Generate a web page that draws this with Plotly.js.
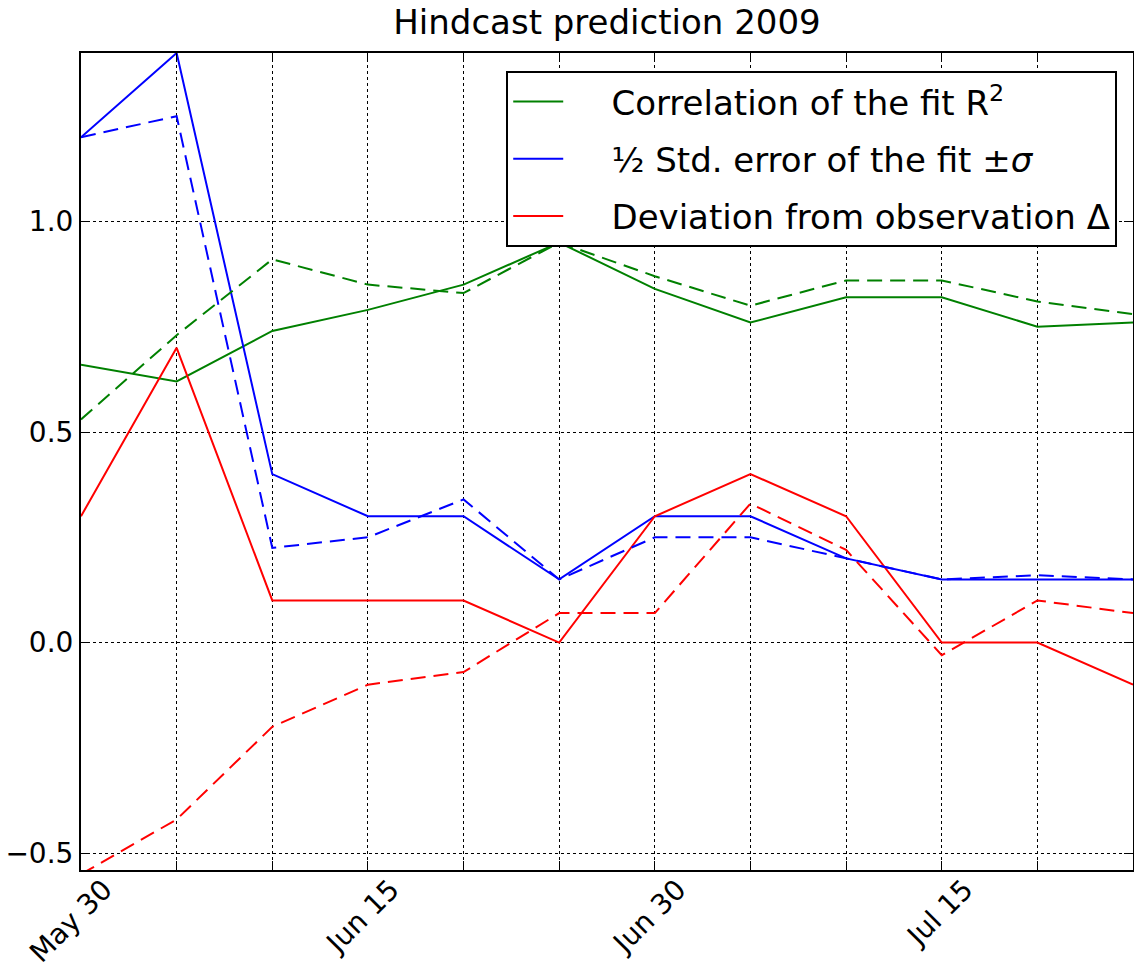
<!DOCTYPE html>
<html>
<head>
<meta charset="utf-8">
<script src="https://cdn.plot.ly/plotly-3.0.1.min.js"></script>
<style>
  body { margin: 0; background: #fff; }
  #chart { width: 1134px; height: 969px; }
</style>
</head>
<body>
<div id="chart"></div>
<script>
// one forecast every 5 days
var dates = [
  "2009-05-31", "2009-06-05", "2009-06-10", "2009-06-15", "2009-06-20", "2009-06-25",
  "2009-06-30", "2009-07-05", "2009-07-10", "2009-07-15", "2009-07-20", "2009-07-25",
];
var tickLabels = ["May 30", " ", " ", "Jun 15", " ", " ", "Jun 30", " ", " ", "Jul 15", " ", " "];

// solid = hindcast, dashed = second set
var r2 = [0.66, 0.62, 0.74, 0.79, 0.85, 0.95, 0.84, 0.76, 0.82, 0.82, 0.75, 0.76];
var r2Dash = [0.53, 0.73, 0.91, 0.85, 0.83, 0.95, 0.87, 0.80, 0.86, 0.86, 0.81, 0.78];
var sigma = [1.2, 1.4, 0.4, 0.3, 0.3, 0.15, 0.3, 0.3, 0.2, 0.15, 0.15, 0.15];
var sigmaDash = [1.2, 1.25, 0.225, 0.25, 0.34, 0.15, 0.25, 0.25, 0.2, 0.15, 0.16, 0.15];
var delta = [0.3, 0.7, 0.1, 0.1, 0.1, 0.0, 0.3, 0.4, 0.3, 0.0, 0.0, -0.1];
var deltaDash = [-0.55, -0.42, -0.2, -0.1, -0.07, 0.07, 0.07, 0.33, 0.22, -0.03, 0.1, 0.07];

var GREEN = "#008000";
var BLUE = "#0000ff";
var RED = "#ff0000";
var DASH = "15px,8px";
var GAP = "&nbsp;&nbsp;&nbsp;&nbsp;"; // room between legend line and label

function line(y, color, name, dashed) {
  return {
    x: dates,
    y: y,
    type: "scatter",
    mode: "lines",
    name: GAP + name,
    legendgroup: name,
    showlegend: !dashed,
    line: { color: color, width: 2, dash: dashed ? DASH : "solid" },
    hoverinfo: "x+y",
  };
}

var data = [
  line(r2, GREEN, "Correlation of the fit R<sup>2</sup>", false),
  line(sigma, BLUE, "½ Std. error of the fit ±<i>σ</i>", false),
  line(delta, RED, "Deviation from observation Δ", false),
  line(r2Dash, GREEN, "Correlation of the fit R<sup>2</sup>", true),
  line(sigmaDash, BLUE, "½ Std. error of the fit ±<i>σ</i>", true),
  line(deltaDash, RED, "Deviation from observation Δ", true),
];

var axisStyle = {
  ticks: "inside",
  ticklen: 9,
  tickcolor: "#000",
  showline: true,
  linecolor: "#000",
  linewidth: 2,
  mirror: "ticks",
  showgrid: true,
  gridcolor: "#000",
  gridwidth: 1,
  griddash: "dot",
  zeroline: false,
};

var layout = {
  width: 1134,
  height: 969,
  margin: { l: 81, r: 1, t: 53, b: 99 },
  paper_bgcolor: "#fff",
  plot_bgcolor: "#fff",
  font: { family: "DejaVu Sans, sans-serif", size: 28, color: "#000" },
  title: {
    text: "Hindcast prediction 2009",
    font: { size: 34 },
    xref: "paper",
    x: 0.5,
    xanchor: "center",
    y: 0.977,
    yanchor: "middle",
  },
  showlegend: true,
  legend: {
    x: 0.985,
    xanchor: "right",
    y: 0.978,
    yanchor: "top",
    bgcolor: "#fff",
    bordercolor: "#000",
    borderwidth: 2,
    font: { size: 34 },
    traceorder: "grouped",
    tracegroupgap: 10,
    itemwidth: 50,
  },
  xaxis: Object.assign({}, axisStyle, {
    type: "date",
    range: ["2009-05-31", "2009-07-25"],
    tickmode: "array",
    tickvals: dates,
    ticktext: tickLabels,
    tickangle: -45,
    tickfont: { size: 28, color: "#000" },
    ticklabelshift: 23,
    ticklabelstandoff: -10,
  }),
  yaxis: Object.assign({}, axisStyle, {
    range: [-0.54, 1.4],
    tickmode: "array",
    tickvals: [-0.5, 0, 0.5, 1.0],
    ticktext: ["\u22120.5", "0.0", "0.5", "1.0"],
    tickfont: { size: 28, color: "#000" },
    ticklabelstandoff: 0,
  }),
};

Plotly.newPlot("chart", data, layout, { displayModeBar: false, staticPlot: true });
</script>
</body>
</html>
